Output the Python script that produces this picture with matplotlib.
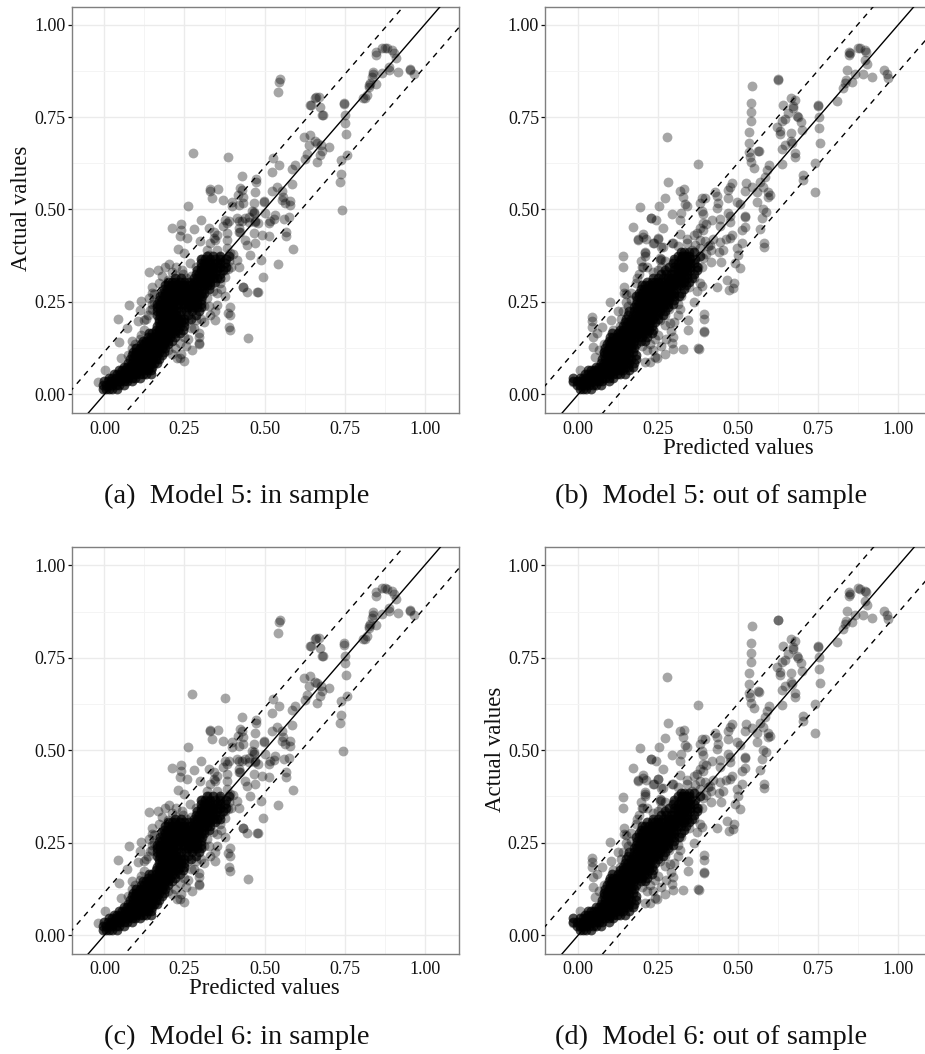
import matplotlib
matplotlib.use("Agg")
import matplotlib.pyplot as plt

# dense, saturated part of the clouds: (actual value, predicted values on that row)
core_in = [
    (.015, [-.005, .005, .015, .025, .04]),
    (.025, [-.005, .005, .015, .025, .035, .045, .06]),
    (.035, [0, .01, .02, .03, .04, .05, .06, .07, .085]),
    (.045, [.015, .025, .035, .045, .055, .065, .075, .085, .095, .11]),
    (.055, [.03, .04, .05, .06, .07, .08, .09, .10, .11, .12, .13, .145]),
    (.065, [.045, .055, .065, .075, .085, .095, .105, .115, .125, .135, .145]),
    (.075, [.06, .07, .08, .09, .10, .11, .12, .13, .14, .15]),
    (.085, [.075, .085, .095, .105, .115, .125, .135, .145, .155, .165]),
    (.095, [.08, .09, .10, .11, .12, .13, .14, .15, .16, .17]),
    (.105, [.085, .095, .105, .115, .125, .135, .145, .155, .165, .18]),
    (.115, [.09, .10, .11, .12, .13, .14, .15, .16, .17, .185]),
    (.125, [.10, .11, .12, .13, .14, .15, .16, .17, .18, .19]),
    (.135, [.115, .125, .135, .145, .155, .165, .175, .185, .20]),
    (.145, [.12, .13, .14, .15, .16, .17, .18, .19, .20, .21]),
    (.155, [.135, .145, .155, .165, .175, .185, .195, .205, .22]),
    (.165, [.14, .15, .16, .17, .18, .19, .20, .21, .22, .235]),
    (.175, [.16, .17, .18, .19, .20, .21, .22, .23, .245]),
    (.185, [.165, .175, .185, .195, .205, .215, .225, .235, .25]),
    (.195, [.17, .18, .19, .20, .21, .22, .23, .24, .25]),
    (.205, [.17, .18, .19, .20, .21, .22, .23, .24, .25, .27]),
    (.215, [.165, .175, .185, .195, .205, .215, .225, .235, .26, .285]),
    (.225, [.165, .175, .185, .195, .205, .215, .225, .24, .255, .275, .295]),
    (.235, [.165, .175, .185, .195, .205, .215, .23, .25, .26, .27, .28, .29, .30]),
    (.245, [.165, .175, .185, .195, .205, .215, .225, .24, .25, .26, .27, .28, .29, .30]),
    (.255, [.17, .18, .19, .20, .21, .22, .23, .24, .25, .26, .27, .28, .29, .30]),
    (.265, [.175, .185, .195, .205, .215, .225, .235, .245, .255, .265, .275, .285, .295, .305]),
    (.275, [.18, .19, .20, .21, .22, .23, .24, .25, .26, .27, .28, .29, .30, .31]),
    (.285, [.185, .195, .205, .215, .225, .235, .245, .255, .265, .275, .285, .295, .31, .325]),
    (.295, [.19, .20, .21, .22, .23, .24, .25, .26, .27, .28, .29, .30, .31, .32, .33]),
    (.305, [.20, .21, .22, .235, .25, .265, .28, .29, .30, .31, .32, .33, .345]),
    (.315, [.22, .24, .28, .29, .30, .31, .32, .33, .34, .35, .36]),
    (.325, [.285, .295, .305, .315, .325, .335, .345, .36]),
    (.335, [.29, .30, .31, .32, .33, .34, .35, .37]),
    (.345, [.30, .31, .32, .33, .34, .35, .36, .38]),
    (.355, [.30, .31, .32, .33, .34, .35, .36, .375]),
    (.365, [.30, .315, .33, .345, .36, .38]),
    (.375, [.32, .34, .36, .39]),
]

core_out = [
    (.015, [.005, .015, .025, .04]),
    (.025, [-.005, .005, .015, .025, .035, .045, .055, .07]),
    (.035, [-.015, -.005, .005, .015, .025, .035, .045, .055, .065, .075, .095]),
    (.045, [-.015, .005, .015, .025, .035, .045, .055, .065, .075, .085, .095, .11]),
    (.055, [.02, .03, .04, .05, .06, .07, .08, .09, .10, .11, .12, .13, .145]),
    (.065, [.03, .04, .05, .06, .07, .08, .09, .10, .11, .12, .13, .14, .16]),
    (.075, [.055, .065, .075, .085, .095, .105, .115, .125, .135, .145, .155, .17]),
    (.085, [.07, .08, .09, .10, .11, .12, .13, .14, .15, .16, .175]),
    (.095, [.075, .085, .095, .105, .115, .125, .135, .145, .155, .165, .18]),
    (.105, [.08, .09, .10, .11, .12, .13, .14, .15, .16, .18]),
    (.115, [.08, .09, .10, .11, .12, .13, .14, .15, .16, .17]),
    (.125, [.085, .095, .105, .115, .125, .135, .145, .155, .165, .175]),
    (.135, [.09, .10, .11, .12, .13, .14, .15, .16, .17, .18]),
    (.145, [.095, .105, .115, .125, .135, .145, .155, .165, .175, .195, .21]),
    (.155, [.10, .11, .12, .13, .14, .15, .16, .17, .18, .19, .20, .215]),
    (.165, [.105, .125, .135, .145, .155, .165, .175, .185, .195, .205, .215, .23]),
    (.175, [.13, .14, .15, .16, .17, .18, .19, .20, .21, .22, .235]),
    (.185, [.14, .15, .16, .17, .18, .19, .20, .21, .22, .23]),
    (.195, [.145, .155, .165, .175, .185, .195, .205, .215, .225, .24]),
    (.205, [.15, .165, .175, .185, .195, .205, .215, .225, .235, .25]),
    (.215, [.155, .17, .18, .19, .20, .21, .22, .23, .24, .25, .265]),
    (.225, [.16, .175, .185, .195, .205, .215, .225, .235, .245, .255, .27]),
    (.235, [.175, .185, .195, .205, .215, .225, .235, .245, .255, .265, .28]),
    (.245, [.18, .19, .20, .21, .22, .23, .24, .25, .26, .27, .28, .295]),
    (.255, [.185, .195, .205, .215, .225, .235, .245, .255, .265, .275, .285, .30]),
    (.265, [.18, .19, .20, .21, .22, .23, .24, .25, .26, .27, .28, .29, .30, .315]),
    (.275, [.19, .20, .21, .22, .23, .24, .25, .26, .27, .28, .29, .30, .32]),
    (.285, [.195, .205, .215, .225, .235, .245, .255, .265, .275, .285, .295, .305, .33]),
    (.295, [.20, .21, .22, .23, .24, .25, .26, .27, .28, .29, .30, .31, .32, .335]),
    (.305, [.215, .23, .24, .25, .26, .27, .28, .29, .30, .31, .32, .33, .345]),
    (.315, [.235, .25, .265, .28, .29, .30, .31, .32, .33, .34, .355]),
    (.325, [.26, .275, .29, .30, .31, .32, .33, .34, .36]),
    (.335, [.27, .30, .31, .32, .33, .34, .35, .37]),
    (.345, [.285, .30, .31, .32, .33, .34, .35, .37]),
    (.355, [.295, .31, .32, .33, .34, .35, .36]),
    (.365, [.30, .32, .33, .34, .35, .365]),
    (.375, [.31, .325, .335, .345, .38]),
    (.385, [.32, .33, .345, .36]),
]

# visible single points, model 5 and 6 in sample
sparse_in = [
    (.849, .927), (.849, .918), (.867, .938), (.877, .938), (.882, .936), (.898, .930), (.903, .922), (.911, .909),
    (.888, .886), (.888, .876), (.916, .872), (.867, .868), (.839, .873), (.839, .867), (.835, .858), (.825, .837),
    (.825, .830), (.830, .841), (.849, .840), (.820, .810), (.815, .801), (.809, .801), (.955, .879), (.955, .877),
    (.966, .867), (.547, .853), (.544, .846), (.542, .817), (.658, .801), (.669, .803), (.661, .803), (.643, .782),
    (.645, .782), (.672, .776), (.680, .756), (.682, .756), (.749, .789), (.749, .784), (.750, .756), (.752, .735),
    (.755, .704), (.624, .696), (.643, .701), (.638, .674), (.658, .684), (.664, .681), (.676, .674), (.700, .669),
    (.679, .659), (.672, .647), (.664, .628), (.632, .650), (.627, .636), (.739, .634), (.759, .647), (.739, .596),
    (.736, .573), (.528, .638), (.545, .620), (.596, .619), (.585, .610), (.523, .600), (.431, .591), (.474, .583),
    (.472, .574), (.471, .548), (.585, .569), (.539, .562), (.554, .551), (.523, .551), (.559, .535), (.554, .526),
    (.580, .524), (.580, .512), (.565, .517), (.330, .555), (.330, .551), (.356, .555), (.335, .530), (.370, .526),
    (.262, .509), (.398, .521), (.398, .508), (.424, .557), (.429, .553), (.416, .539), (.434, .535), (.434, .517),
    (.419, .512), (.466, .517), (.460, .497), (.497, .524), (.497, .521), (.466, .494), (.466, .490), (.502, .490),
    (.533, .485), (.530, .473), (.518, .470), (.513, .464), (.561, .475), (.575, .479), (.302, .472), (.377, .472),
    (.382, .464), (.414, .476), (.419, .470), (.440, .476), (.450, .467), (.471, .467), (.481, .463), (.210, .451),
    (.240, .460), (.239, .445), (.280, .446), (.236, .427), (.259, .423), (.325, .449), (.341, .440), (.424, .440),
    (.419, .440), (.382, .436), (.341, .422), (.299, .416), (.346, .417), (.382, .417), (.440, .417), (.466, .436),
    (.492, .431), (.513, .428), (.568, .440), (.568, .427), (.471, .410), (.445, .404), (.231, .393), (.247, .381),
    (.588, .393), (.455, .377), (.320, .390), (.351, .390), (.382, .395), (.393, .381), (.325, .377), (.361, .372),
    (.541, .353), (.494, .316), (.432, .291), (.432, .289), (.445, .276), (.479, .276), (.477, .276), (.489, .363),
    (.419, .345), (.414, .362), (.391, .235), (.391, .215), (.385, .221), (.390, .183), (.391, .174), (.294, .167),
    (.294, .156), (.294, .138), (.294, .136), (.447, .151), (.346, .224), (.351, .242), (.236, .097), (.226, .097),
    (.138, .332), (.167, .335), (.190, .344), (.203, .352), (.148, .291), (.148, .273), (.138, .260), (.114, .253),
    (.077, .241), (.041, .204), (.070, .179), (.045, .142), (.053, .099), (.003, .066), (-.019, .034), (.268, .354),
    (.242, .337), (.377, .318), (.351, .273), (.106, .197), (.111, .228), (.122, .174), (.143, .228), (.130, .205),
    (.150, .245), (.115, .160), (.085, .145), (.100, .125), (.345, .200), (.330, .215), (.310, .195), (.280, .180),
    (.300, .205), (.325, .240), (.275, .120), (.255, .130), (.260, .150), (.240, .110), (.250, .090), (.210, .330),
    (.225, .345), (.255, .315), (.285, .345), (.305, .365), (.395, .345), (.365, .285), (.375, .265), (.385, .340),
]

only_a = [(.278, .653), (.386, .642), (.741, .498)]
only_c = [(.273, .653), (.378, .642), (.744, .498)]

# visible single points, model 5 and 6 out of sample
sparse_out = [
    (.847, .927), (.847, .918), (.849, .924), (.873, .938), (.880, .936), (.896, .931), (.899, .927), (.896, .904),
    (.901, .894), (.839, .876), (.836, .850), (.833, .841), (.826, .828), (.854, .846), (.865, .867), (.891, .867),
    (.917, .858), (.956, .877), (.964, .867), (.969, .855), (.623, .853), (.625, .851), (.544, .835), (.540, .789),
    (.540, .763), (.539, .739), (.534, .709), (.532, .679), (.534, .656), (.536, .643), (.539, .629), (.549, .613),
    (.563, .659), (.565, .657), (.664, .801), (.677, .796), (.639, .782), (.670, .780), (.672, .774), (.656, .760),
    (.646, .744), (.682, .754), (.688, .749), (.696, .736), (.635, .738), (.620, .724), (.630, .713), (.630, .703),
    (.700, .715), (.665, .708), (.664, .684), (.667, .679), (.646, .674), (.635, .664), (.677, .654), (.677, .643),
    (.750, .783), (.749, .780), (.752, .751), (.753, .721), (.755, .681), (.807, .794), (.738, .625), (.739, .546),
    (.703, .593), (.701, .580), (.635, .623), (.597, .619), (.589, .607), (.583, .589), (.568, .573), (.524, .571),
    (.479, .571), (.474, .562), (.469, .553), (.522, .551), (.542, .560), (.557, .548), (.578, .562), (.592, .548),
    (.599, .539), (.594, .535), (.559, .521), (.469, .530), (.495, .521), (.505, .515), (.578, .500), (.586, .494),
    (.573, .476), (.568, .446), (.580, .410), (.581, .399), (.276, .697), (.373, .623), (.281, .575), (.331, .555),
    (.318, .551), (.328, .535), (.271, .532), (.333, .515), (.341, .510), (.193, .507), (.251, .509), (.292, .487),
    (.320, .490), (.318, .472), (.226, .477), (.228, .476), (.244, .472), (.172, .452), (.266, .450), (.203, .433),
    (.188, .419), (.211, .419), (.250, .421), (.236, .408), (.318, .434), (.292, .410), (.264, .398), (.208, .386),
    (.141, .374), (.385, .530), (.396, .530), (.427, .548), (.432, .537), (.380, .518), (.438, .517), (.432, .503),
    (.385, .497), (.391, .488), (.417, .472), (.443, .473), (.469, .490), (.474, .482), (.521, .481), (.521, .479),
    (.443, .454), (.474, .467), (.391, .463), (.391, .445), (.370, .436), (.380, .417), (.479, .431), (.474, .422),
    (.521, .452), (.510, .445), (.510, .408), (.443, .413), (.453, .390), (.411, .404), (.495, .395), (.500, .377),
    (.339, .408), (.328, .377), (.255, .368), (.380, .395), (.505, .341), (.488, .300), (.464, .309), (.472, .282),
    (.484, .287), (.432, .289), (.388, .293), (.445, .359), (.490, .354), (.414, .359), (.394, .217), (.394, .203),
    (.394, .170), (.394, .168), (.344, .201), (.344, .174), (.328, .122), (.375, .124), (.376, .123), (.295, .156),
    (.292, .138), (.295, .122), (.271, .188), (.286, .192), (.318, .230), (.245, .097), (.224, .088), (.208, .088),
    (.099, .251), (.141, .344), (.143, .291), (.143, .273), (.042, .208), (.042, .197), (.043, .183), (.045, .156),
    (.073, .183), (.102, .201), (.047, .129), (.052, .102), (.005, .066), (-.018, .034), (.203, .345), (.208, .381),
    (.203, .426), (.188, .417), (.234, .408), (.250, .422), (.260, .399), (.255, .363), (.297, .408), (.182, .314),
    (.150, .250), (.125, .225), (.110, .175), (.065, .120), (.080, .135), (.060, .165), (.150, .270), (.310, .215),
    (.290, .170), (.300, .195), (.275, .150), (.260, .130), (.270, .110), (.240, .100), (.235, .120), (.215, .345),
    (.235, .330), (.260, .365), (.275, .330), (.400, .380), (.415, .390), (.440, .385), (.355, .390), (.365, .405),
    (.395, .415), (.420, .420), (.460, .420), (.350, .345), (.385, .345), (.380, .300), (.370, .280), (.360, .250),
]

# darker mid-density points around the out of sample core
halo_out = [
    (.13, .185), (.135, .205), (.125, .165), (.105, .15), (.095, .125), (.08, .115), (.14, .225), (.155, .24),
    (.165, .255), (.165, .275), (.18, .30), (.19, .325), (.20, .345), (.195, .36), (.21, .375), (.25, .335),
    (.26, .345), (.27, .36), (.19, .20), (.20, .13), (.215, .12), (.225, .135), (.24, .15), (.25, .16),
    (.255, .20), (.27, .215), (.285, .23), (.31, .245), (.32, .265), (.345, .29), (.36, .315), (.375, .345),
    (.39, .37), (.405, .40), (.30, .36), (.31, .40), (.34, .42), (.36, .43), (.38, .45), (.40, .46),
]
# same for in sample
halo_in = [
    (.125, .20), (.135, .215), (.15, .23), (.155, .25), (.155, .27), (.17, .30), (.18, .32), (.085, .125),
    (.075, .105), (.095, .135), (.11, .15), (.20, .31), (.225, .32), (.245, .325), (.27, .32), (.26, .20),
    (.27, .18), (.285, .20), (.25, .155), (.235, .14), (.22, .125), (.21, .11), (.20, .12), (.31, .24),
    (.32, .26), (.34, .28), (.36, .30), (.375, .335), (.39, .36), (.40, .38), (.33, .41), (.35, .43),
    (.37, .455), (.39, .47), (.42, .45), (.43, .47), (.45, .48), (.47, .47),
]

x_ticks = [0, .25, .5, .75, 1]
x_minor = [.125, .375, .625, .875]
y_ticks = [0, .25, .5, .75, 1]
y_minor = [.125, .375, .625, .875]
tick_labels = ["0.00", "0.25", "0.50", "0.75", "1.00"]

W, H = 925, 1054
fig = plt.figure(figsize=(W / 100, H / 100), dpi=100)
plt.rcParams['font.family'] = ['Liberation Serif', 'DejaVu Serif']


def panel(left, top, rows, single, band):
    ax = fig.add_axes([left / W, 1 - (top + 406.5) / H, 387 / W, 406.5 / H])
    ax.set_xlim(-.103, 1.106)
    ax.set_ylim(-.0506, 1.049)
    ax.set_axisbelow(True)
    ax.set_xticks(x_ticks)
    ax.set_yticks(y_ticks)
    ax.set_xticks(x_minor, minor=True)
    ax.set_yticks(y_minor, minor=True)
    ax.set_xticklabels(tick_labels)
    ax.set_yticklabels(tick_labels)
    ax.grid(which="major", color="#ebebeb", lw=1)
    ax.grid(which="minor", color="#f4f4f4", lw=.7)
    ax.tick_params(which="minor", length=0)
    ax.tick_params(axis="x", which="major", length=0, pad=5.5, labelsize=13, colors="#111111")
    ax.tick_params(axis="y", which="major", length=3, width=.9, pad=1.5, labelsize=13, colors="#111111")
    for s in ax.spines.values():
        s.set_color("#7f7f7f")
        s.set_linewidth(1)
    # the core is saturated in the reference, so it gets a heavier alpha
    core_x = [x for y, row in rows for x in row]
    core_y = [y for y, row in rows for x in row]
    ax.scatter(core_x, core_y, s=50, c="black", alpha=.7, linewidths=0, zorder=2)
    ax.scatter([p[0] for p in single], [p[1] for p in single], s=50, c="black", alpha=.35, linewidths=0, zorder=2)
    line_x = [-.2, 1.2]
    ax.plot(line_x, line_x, color="black", lw=1, zorder=3)
    ax.plot(line_x, [v + band for v in line_x], color="black", lw=1, ls=(0, (4, 4)), zorder=3)
    ax.plot(line_x, [v - band for v in line_x], color="black", lw=1, ls=(0, (4, 4)), zorder=3)
    return ax


ax_a = panel(71.5, 6.5, core_in, sparse_in + halo_in + only_a, .115)
ax_b = panel(545.3, 6.5, core_out, sparse_out + halo_out, .127)
ax_c = panel(71.5, 547.3, core_in, sparse_in + halo_in + only_c, .115)
ax_d = panel(545.3, 547.3, core_out, sparse_out + halo_out, .127)


def put(x, y, s, size, **kw):
    fig.text(x / W, 1 - y / H, s, fontsize=size, ha="center", va="center", color="#111111", **kw)


put(22, 208, "Actual values", 16.5, rotation=90)
put(496, 749, "Actual values", 16.5, rotation=90)
put(738.8, 448, "Predicted values", 16.5)
put(264.5, 989, "Predicted values", 16.5)

put(237, 496, "(a)  Model 5: in sample", 20.4)
put(711, 496, "(b)  Model 5: out of sample", 20.4)
put(237, 1037, "(c)  Model 6: in sample", 20.4)
put(711, 1037, "(d)  Model 6: out of sample", 20.4)

fig.savefig("out.png", dpi=100)
